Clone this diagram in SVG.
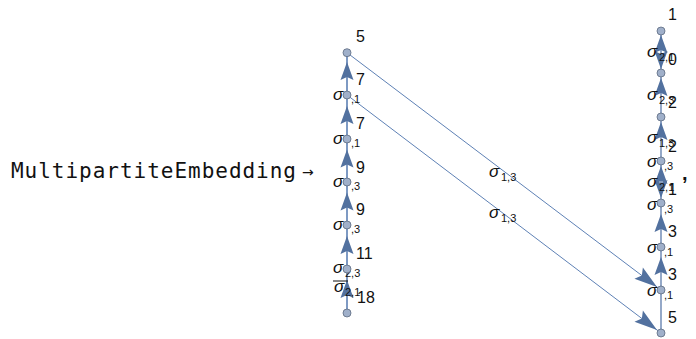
<svg xmlns="http://www.w3.org/2000/svg" width="696" height="339" viewBox="0 0 696 339">
<style>
.mono{font-family:"DejaVu Sans Mono","Liberation Mono",monospace;font-size:21px;fill:#111}
.num{font-family:"Liberation Sans",Arial,sans-serif;font-size:16px;fill:#111}
.sig{font-family:"Liberation Sans",Arial,sans-serif;font-size:17px;font-style:italic;fill:#111}
.sub{font-family:"Liberation Sans",Arial,sans-serif;font-size:11px;fill:#111}
.col{stroke:#5e81b5;stroke-width:1.6;fill:none}
.rcol{stroke:#4d6fa3;stroke-width:1.2;fill:none}
.diag{stroke:#5e81b5;stroke-width:1;fill:none}
.ah{fill:#52719f}
.v{fill:#a0b0ca;stroke:#5d6b80;stroke-width:0.8}
</style>
<defs>
<path id="a" d="M0,0 L-18,-6.5 L-15,0 L-18,6.5 Z"/>
<path id="d" d="M0,0 L-23,-7 L-19,0 L-23,7 Z"/>
</defs>
<text class="mono" x="11" y="178" textLength="285" lengthAdjust="spacing">MultipartiteEmbedding</text>
<text x="302" y="177" style="font-family:'DejaVu Sans',sans-serif;font-size:14px;fill:#111">→</text>
<g id="connectors">
<line class="col" x1="347" y1="52.7" x2="347" y2="313"/>
<line class="rcol" x1="661" y1="31" x2="661" y2="333"/>
<line class="diag" x1="347" y1="52.7" x2="661" y2="290"/>
<line class="diag" x1="347" y1="95" x2="661" y2="333"/>
<use href="#a" class="ah" transform="translate(347,62) rotate(-90)"/>
<use href="#a" class="ah" transform="translate(347,106) rotate(-90)"/>
<use href="#a" class="ah" transform="translate(347,149.5) rotate(-90)"/>
<use href="#a" class="ah" transform="translate(347,192.5) rotate(-90)"/>
<use href="#a" class="ah" transform="translate(347,236) rotate(-90)"/>
<use href="#a" class="ah" transform="translate(347,280) rotate(-90)"/>
<use href="#a" class="ah" transform="translate(661,35) rotate(-90)"/>
<use href="#a" class="ah" transform="translate(661,69) rotate(90)"/>
<use href="#a" class="ah" transform="translate(661,78) rotate(-90)"/>
<use href="#a" class="ah" transform="translate(661,122) rotate(-90)"/>
<use href="#a" class="ah" transform="translate(661,166) rotate(-90)"/>
<use href="#a" class="ah" transform="translate(661,198) rotate(90)"/>
<use href="#a" class="ah" transform="translate(661,214) rotate(-90)"/>
<use href="#a" class="ah" transform="translate(661,257) rotate(-90)"/>
<use href="#d" class="ah" transform="translate(657,287) rotate(37.1)"/>
<use href="#d" class="ah" transform="translate(657,330) rotate(37.2)"/>
<text class="num" x="356" y="85">7</text>
<text class="num" x="356" y="129">7</text>
<text class="num" x="356" y="173">9</text>
<text class="num" x="356" y="215">9</text>
<text class="num" x="356" y="259">11</text>
<text class="num" x="357" y="303">18</text>
<text class="num" x="668" y="65">0</text>
<text class="num" x="668" y="108">2</text>
<text class="num" x="668" y="152">2</text>
<text class="num" x="668" y="195">1</text>
<text class="num" x="668" y="237">3</text>
<text class="num" x="668" y="280">3</text>
<text class="num" x="668" y="323">5</text>
<text class="sig" x="489" y="177">σ</text><text class="sub" x="501" y="181">1,3</text>
<text class="sig" x="489" y="218">σ</text><text class="sub" x="501" y="222">1,3</text>
<text class="sig" x="647" y="57">σ</text><text class="sub" x="659" y="61">2,1</text>
<text class="sig" x="647" y="100">σ</text><text class="sub" x="659" y="104">2,3</text>
<text class="sig" x="647" y="143">σ</text><text class="sub" x="659" y="147">1,3</text>
<text class="sig" x="647" y="187">σ</text><text class="sub" x="659" y="191">2,1</text>
<text class="sig" x="334" y="292">σ</text><line x1="333" y1="281" x2="348" y2="281" stroke="#111" stroke-width="1"/><text class="sub" x="345" y="296">2,1</text>
</g>
<g id="L1"><text class="num" x="356" y="42">5</text><circle class="v" cx="347" cy="52.7" r="4"/></g>
<g id="L2"><text class="sig" x="333" y="100">σ</text><text class="sub" x="351" y="103">,1</text><circle class="v" cx="347" cy="95" r="4"/></g>
<g id="L3"><text class="sig" x="333" y="144">σ</text><text class="sub" x="351" y="147">,1</text><circle class="v" cx="347" cy="139" r="4"/></g>
<g id="L4"><text class="sig" x="333" y="187">σ</text><text class="sub" x="351" y="190">,3</text><circle class="v" cx="347" cy="182" r="4"/></g>
<g id="L5"><text class="sig" x="333" y="230">σ</text><text class="sub" x="351" y="233">,3</text><circle class="v" cx="347" cy="225" r="4"/></g>
<g id="L6"><text class="sig" x="333" y="273">σ</text><text class="sub" x="345" y="277">2,3</text><circle class="v" cx="347" cy="269" r="4"/></g>
<g id="L7"><circle class="v" cx="347" cy="313" r="4"/></g>
<g id="R1"><text class="num" x="668" y="20">1</text><circle class="v" cx="661" cy="31" r="4"/></g>
<g id="R2"><circle class="v" cx="661" cy="73" r="4"/></g>
<g id="R3"><circle class="v" cx="661" cy="117" r="4"/></g>
<g id="R4"><text class="sig" x="647" y="167">σ</text><text class="sub" x="664" y="170">,3</text><circle class="v" cx="661" cy="161" r="4"/></g>
<g id="R5"><text class="sig" x="647" y="210">σ</text><text class="sub" x="664" y="213">,3</text><circle class="v" cx="661" cy="203" r="4"/></g>
<g id="R6"><text class="sig" x="647" y="253">σ</text><text class="sub" x="664" y="256">,1</text><circle class="v" cx="661" cy="247" r="4"/></g>
<g id="R7"><text class="sig" x="647" y="296">σ</text><text class="sub" x="664" y="299">,1</text><circle class="v" cx="661" cy="290" r="4"/></g>
<g id="R8"><circle class="v" cx="661" cy="333" r="4"/></g>
<text x="682" y="180" style="font-family:'Liberation Sans',Arial,sans-serif;font-size:20px;font-weight:bold;fill:#111">,</text>
</svg>
